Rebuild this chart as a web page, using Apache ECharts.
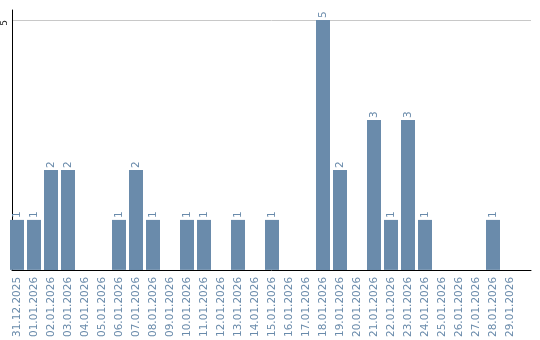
<!DOCTYPE html>
<html>
<head>
<meta charset="utf-8">
<script src="https://cdn.jsdelivr.net/npm/echarts@6/dist/echarts.min.js"></script>
<style>
  html, body { margin: 0; padding: 0; background: #fff; }
  #chart { width: 540px; height: 340px; }
</style>
</head>
<body>
<div id="chart"></div>
<script>
// dates shown on the x axis
var days = ['31.12.2025', '01.01.2026', '02.01.2026', '03.01.2026', '04.01.2026', '05.01.2026',
  '06.01.2026', '07.01.2026', '08.01.2026', '09.01.2026', '10.01.2026', '11.01.2026',
  '12.01.2026', '13.01.2026', '14.01.2026', '15.01.2026', '16.01.2026', '17.01.2026',
  '18.01.2026', '19.01.2026', '20.01.2026', '21.01.2026', '22.01.2026', '23.01.2026',
  '24.01.2026', '25.01.2026', '26.01.2026', '27.01.2026', '28.01.2026', '29.01.2026'];
// count per day
var counts = [1, 1, 2, 2, 0, 0, 1, 2, 1, 0, 1, 1, 0, 1, 0, 1, 0, 0, 5, 2, 0, 3, 1, 3, 1, 0, 0, 0, 1, 0];

var barColor = '#6a8bab';
var chart = echarts.init(document.getElementById('chart'));

chart.setOption({
  animation: false,
  textStyle: { fontFamily: 'DejaVu Sans' },
  grid: [
    // bars
    { left: 8.5, right: 21.5, top: 10, bottom: 70 },
    // axis frame, runs a bit further right than the bars
    { left: 10.5, right: 9, top: 10, bottom: 70 }
  ],
  xAxis: [{
    type: 'category',
    gridIndex: 0,
    data: days,
    axisLine: { show: false },
    axisTick: { show: false },
    axisLabel: { rotate: 90, interval: 0, color: barColor, fontSize: 10.5, margin: 7 }
  }, {
    type: 'value',
    gridIndex: 1,
    axisLine: { show: true, lineStyle: { color: '#000', width: 1 } },
    axisTick: { show: false },
    axisLabel: { show: false },
    splitLine: { show: false }
  }],
  yAxis: [{
    type: 'value',
    gridIndex: 0,
    min: 0,
    max: 5.2,
    show: false
  }, {
    type: 'value',
    gridIndex: 1,
    min: 0,
    max: 5.2,
    interval: 5,
    axisLine: { show: true, lineStyle: { color: '#000', width: 1 } },
    axisTick: { show: false },
    // lines at 0, 5 and 5.2 - only the one at 5 is visible
    splitLine: { lineStyle: { color: ['rgba(0,0,0,0)', '#c8c8c8', 'rgba(0,0,0,0)'] } },
    axisLabel: {
      showMinLabel: false,
      showMaxLabel: false,
      rotate: 90,
      align: 'right',
      color: '#222',
      fontSize: 9,
      margin: 3
    }
  }],
  series: [{
    type: 'bar',
    xAxisIndex: 0,
    yAxisIndex: 0,
    data: counts.map(function (v) { return v === 0 ? null : v; }),
    barWidth: 14,
    itemStyle: { color: barColor },
    label: {
      show: true,
      position: 'top',
      rotate: 90,
      align: 'left',
      verticalAlign: 'middle',
      distance: 2,
      color: barColor,
      fontSize: 10.5
    }
  }]
});
</script>
</body>
</html>
